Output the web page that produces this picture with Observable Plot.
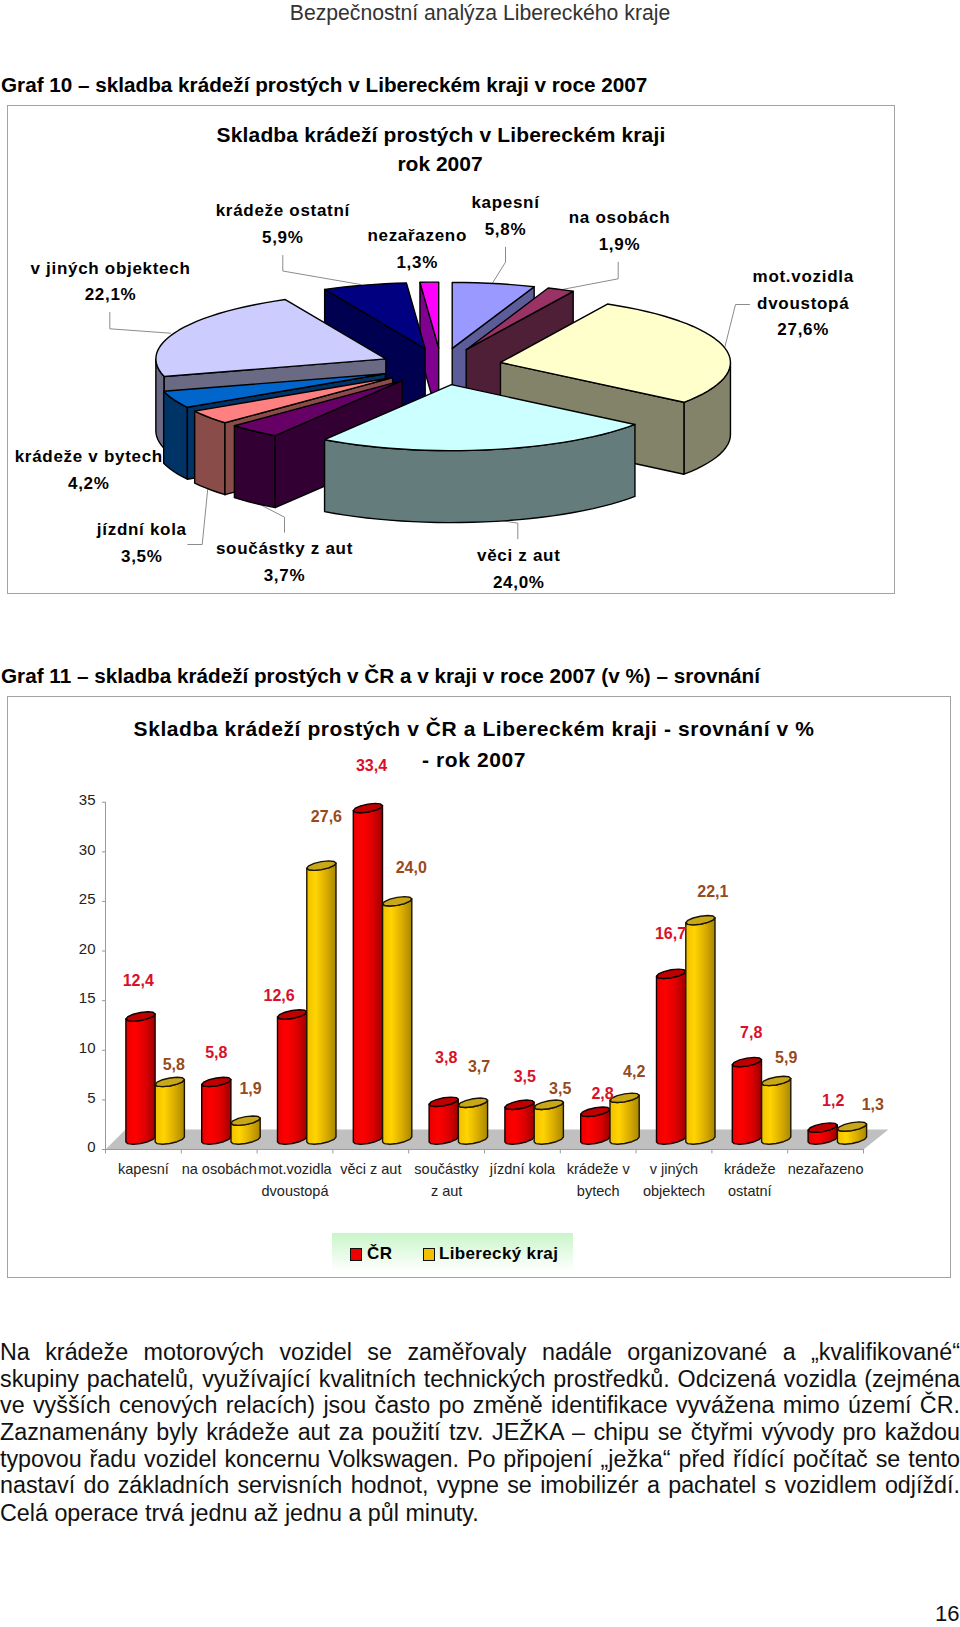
<!DOCTYPE html>
<html lang="cs">
<head>
<meta charset="utf-8">
<script src="https://cdn.jsdelivr.net/npm/d3@7"></script>
<script src="https://cdn.jsdelivr.net/npm/@observablehq/plot@0.6"></script>
<style>
html,body{margin:0;padding:0;background:#fff}
#page{position:relative;width:960px;height:1627px;overflow:hidden;font-family:"Liberation Sans",Arial,sans-serif;color:#000}
#page>*{position:absolute}
.h{font-weight:bold;font-size:20.7px;left:1px;white-space:nowrap;line-height:24px}
.frame{box-sizing:border-box;border:1.5px solid #a3a3a3}
.ct{font-weight:bold;font-size:21px;white-space:nowrap;text-align:center;transform:translate(-50%,-50%);line-height:24px}
.p{left:0;width:960px;font-size:23.3px;line-height:26px;height:26px;text-align:justify;text-align-last:justify;white-space:normal;color:#111}
.sw{width:10px;height:11px;border:1.5px solid #111;box-sizing:content-box}
.lg{font-weight:bold;font-size:17px;white-space:nowrap;line-height:20px;letter-spacing:.35px}
</style>
</head>
<body>
<div id="page"></div>
<script>
// ---- data ----
const pieNames = ["kapesní","na osobách","mot.vozidla\ndvoustopá","věci z aut","součástky z aut","jízdní kola","krádeže v bytech","v jiných objektech","krádeže ostatní","nezařazeno"];
const pieShares = [5.8,1.9,27.6,24.0,3.7,3.5,4.2,22.1,5.9,1.3];
const pieTopColors = ["#9999ff","#993366","#ffffcc","#ccffff","#660066","#ff8080","#0066cc","#ccccff","#000080","#ff00ff"];
const pieSideColors = ["#5c5c99","#4f1f38","#83836a","#647c7c","#330033","#8a4c48","#003366","#6a6a85","#000050","#800090"];

const barCategories = ["kapesní","na osobách","mot.vozidla\ndvoustopá","věci z aut","součástky\nz aut","jízdní kola","krádeže v\nbytech","v jiných\nobjektech","krádeže\nostatní","nezařazeno"];
const valuesCR = [12.4,5.8,12.6,33.4,3.8,3.5,2.8,16.7,7.8,1.2];
const valuesLK = [5.8,1.9,27.6,24.0,3.7,3.5,4.2,22.1,5.9,1.3];
const yTicks = [0,5,10,15,20,25,30,35];

const bodyLines = [
"Na krádeže motorových vozidel se zaměřovaly nadále organizované a „kvalifikované“",
"skupiny pachatelů, využívající kvalitních technických prostředků. Odcizená vozidla (zejména",
"ve vyšších cenových relacích) jsou často po změně identifikace vyvážena mimo území ČR.",
"Zaznamenány byly krádeže aut za použití tzv. JEŽKA – chipu se čtyřmi vývody pro každou",
"typovou řadu vozidel koncernu Volkswagen. Po připojení „ježka“ před řídící počítač se tento",
"nastaví do základních servisních hodnot, vypne se imobilizér a pachatel s vozidlem odjíždí.",
"Celá operace trvá jednu až jednu a půl minuty."];

// ---- page furniture ----
const page = document.getElementById("page");
function el(cls, style, text){
  const d = document.createElement("div");
  d.className = cls; Object.assign(d.style, style);
  if (text != null) d.textContent = text;
  page.appendChild(d); return d;
}
el("", {left:"0",width:"960px",top:"2.5px",textAlign:"center",fontSize:"21.2px",lineHeight:"20px",color:"#333"}, "Bezpečnostní analýza Libereckého kraje");
el("h", {top:"73px"}, "Graf 10 – skladba krádeží prostých v Libereckém kraji v roce 2007");
el("h", {top:"664px"}, "Graf 11 – skladba krádeží prostých v ČR a v kraji v roce 2007 (v %) – srovnání");
el("frame", {left:"7px",top:"105px",width:"888px",height:"489px"});
el("frame", {left:"7px",top:"696px",width:"944px",height:"582px"});

bodyLines.forEach((t,i)=>{
  const tops = [1339,1366,1392,1419,1446,1472,1500];
  const d = el("p", {top:tops[i]+"px"}, t);
  if (i === bodyLines.length-1) d.style.textAlignLast = "left";
});
el("", {left:"935px",top:"1604px",fontSize:"22px",lineHeight:"20px",color:"#111"}, "16");

// ---- pie: unit circle squashed by the scales, slices offset radially ----
const PIE = {cx:440.7, cy:366, a:230, b:66, left:8, top:105, w:886, h:488, ex:0.264, ey:0.279, depth:1.09};
const pieX = px => (px - PIE.cx)/PIE.a, pieY = py => (py - PIE.cy)/PIE.b;
const cum = d3.cumsum(pieShares);
const slices = pieShares.map((s,i)=>{
  const start = (i?cum[i-1]:0)*3.6, end = cum[i]*3.6, mid = (start+end)/2*Math.PI/180;
  return {i, start, end, ox: PIE.ex*Math.sin(mid), oy: -PIE.ey*Math.cos(mid)};
}).sort((p,q)=>p.oy-q.oy);
const piePolys = [];
let polyId = 0;
function addPoly(pts, fill){ const id = polyId++; pts.forEach(([x,y])=>piePolys.push({id,x,y,fill})); }
function arc(s, from, to, dz){
  const n = Math.max(1, Math.ceil(Math.abs(to-from)/3)), out = [];
  for (let k=0;k<=n;k++){
    const t = (from+(to-from)*k/n)*Math.PI/180;
    out.push([s.ox+Math.sin(t), s.oy-Math.cos(t)+dz]);
  }
  return out;
}
for (const s of slices){
  const top = pieTopColors[s.i], side = pieSideColors[s.i], D = PIE.depth;
  const sinS = Math.sin(s.start*Math.PI/180), sinE = Math.sin(s.end*Math.PI/180);
  const f = Math.max(s.start,90), l = Math.min(s.end,270);
  if (l > f) addPoly([...arc(s,f,l,0), ...arc(s,l,f,D)], side);
  if (sinS < -1e-6) addPoly([[s.ox,s.oy], ...arc(s,s.start,s.start,0).slice(0,1), ...arc(s,s.start,s.start,D).slice(0,1), [s.ox,s.oy+D]], side);
  if (sinE > 1e-6) addPoly([[s.ox,s.oy], ...arc(s,s.end,s.end,0).slice(0,1), ...arc(s,s.end,s.end,D).slice(0,1), [s.ox,s.oy+D]], side);
  addPoly([[s.ox,s.oy], ...arc(s,s.start,s.end,0)], top);
}
// label anchors (page pixels, hand placed as in the original), one per slice
const pieLabelAt = [[505,216],[619,231],[802.7,303.3],[518.3,569],[284,562],[141.3,543],[88.3,470],[110,281.5],[282.3,224],[416.7,249]];
const pct = v => v.toFixed(1).replace(".",",")+"%";
const pieLabels = pieNames.map((n,i)=>({t:n+"\n"+pct(pieShares[i]), x:pieX(pieLabelAt[i][0]), y:pieY(pieLabelAt[i][1])}));
const leaders = [
 [[282.3,255],[282.3,270.5],[360,284]],
 [[109.3,312],[109.3,328.3],[170,332.7]],
 [[505,246.7],[505,261.7],[491.7,283]],
 [[617.7,261.7],[617.7,278.3],[561.7,289]],
 [[749,304],[735,304],[724.3,346.7]],
 [[187.3,544],[201.7,544],[207.3,488]],
 [[284,531.7],[284,516.7],[255,501.7]],
 [[517.3,538.3],[517.3,522.7],[500,520]]
].flatMap((l,id)=>l.map(([x,y])=>({id,x:pieX(x),y:pieY(y)})));

const pie = Plot.plot({
  width:PIE.w, height:PIE.h, margin:0,
  x:{domain:[pieX(PIE.left),pieX(PIE.left+PIE.w)],range:[0,PIE.w],axis:null},
  y:{domain:[pieY(PIE.top),pieY(PIE.top+PIE.h)],range:[0,PIE.h],axis:null},
  color:{type:"identity"},
  style:{background:"none",fontFamily:"'Liberation Sans',Arial,sans-serif",overflow:"visible",letterSpacing:".7px"},
  marks:[
    Plot.line(leaders,{x:"x",y:"y",z:"id",stroke:"#8c8c8c",strokeWidth:1}),
    Plot.line(piePolys,{x:"x",y:"y",z:"id",fill:d=>d.fill,stroke:"#000000",strokeWidth:1.4,strokeLinejoin:"round",curve:"linear-closed"}),
    Plot.text(pieLabels,{x:"x",y:"y",text:"t",fontSize:17,fontWeight:"bold",fill:"#000000",lineHeight:1.55,dy:-3.5})
  ]
});
Object.assign(pie.style,{position:"absolute",left:PIE.left+"px",top:PIE.top+"px"});
page.appendChild(pie);
el("ct",{left:"441px",top:"135px",letterSpacing:".15px"},"Skladba krádeží prostých v Libereckém kraji");
el("ct",{left:"440px",top:"164px"},"rok 2007");

// ---- bars ----
const B = {left:8, top:696, w:943, h:581, x0:105, x1:863, y0:1149, y35:801.7};
const ux = (B.x1-B.x0)/10, uy = (B.y0-B.y35)/35;
const hw = 14.6/ux;
const liftBase = 10/uy;       // bars stand on the floor, set back from the front edge
const redOff = 35/ux, goldOff = 64.3/ux;
function ell(cx, yc, t){
  return [cx+hw*Math.cos(t), yc-(4*Math.sin(t)-2.5*Math.cos(t))/uy];
}
const barBodies = [], barCaps = [];
function addBar(id, cx, v, cap){
  const n = 6, yt = v+liftBase, yb = liftBase, body = [], top = [];
  for (let k=0;k<=n;k++) body.push(ell(cx,yb,Math.PI-Math.PI*k/n));
  for (let k=0;k<=n;k++) body.push(ell(cx,yt,Math.PI*k/n));
  for (let k=0;k<2*n;k++) top.push(ell(cx,yt,2*Math.PI*k/(2*n)));
  body.forEach(([x,y])=>barBodies.push({id,x,y}));
  top.forEach(([x,y])=>barCaps.push({id,x,y,cap}));
}
valuesCR.forEach((v,i)=>addBar("r"+i,i+redOff,v,"#c00000"));
valuesLK.forEach((v,i)=>addBar("g"+i,i+goldOff,v,"#c8a818"));
const bodiesCR = barBodies.filter(d=>d.id[0]==="r"), bodiesLK = barBodies.filter(d=>d.id[0]==="g");
// hand placement of the value labels, in pixels from the top of each bar
const dxCR=[-2.3,0,-13,3.6,2.5,5.3,7.2,-0.6,4.3,10.5], liftCR=[36,29,19,42,44,28,18,40,29,27];
const dxLK=[4,5,5,14,6,11.4,9.6,12.4,10,20.8], liftLK=[17,32,48.5,33,36,16,26,28,23,22];
const fmt = v => v.toFixed(1).replace(".",",");
const labelsCR = valuesCR.map((v,i)=>({t:fmt(v),x:i+redOff+dxCR[i]/ux,y:v+liftBase+liftCR[i]/uy}));
const labelsLK = valuesLK.map((v,i)=>({t:fmt(v),x:i+goldOff+dxLK[i]/ux,y:v+liftBase+liftLK[i]/uy}));
const floor = [[0,0],[20/ux,20/uy],[(888-B.x0)/ux,20/uy],[10,0]].map(([x,y])=>({x,y}));
const catLabels = barCategories.map((t,i)=>({t,x:i+0.5}));

const defs = () => {
  const ns="http://www.w3.org/2000/svg", d=document.createElementNS(ns,"defs");
  const mk=(id,st)=>{const g=document.createElementNS(ns,"linearGradient");g.setAttribute("id",id);
    st.forEach(([o,c])=>{const s=document.createElementNS(ns,"stop");s.setAttribute("offset",o);s.setAttribute("stop-color",c);g.appendChild(s);});d.appendChild(g);};
  mk("gradR",[[0,"#e80000"],[.3,"#ff0000"],[.65,"#e00000"],[1,"#a00000"]]);
  mk("gradG",[[0,"#f0c000"],[.3,"#ffd400"],[.65,"#dcae00"],[1,"#a88800"]]);
  return d;
};

const bars = Plot.plot({
  width:B.w, height:B.h,
  marginLeft:B.x0-B.left, marginRight:B.left+B.w-B.x1, marginTop:B.y35-B.top, marginBottom:B.top+B.h-B.y0,
  x:{domain:[0,10],axis:null},
  y:{domain:[0,35],axis:null},
  color:{type:"identity"},
  style:{background:"none",fontFamily:"'Liberation Sans',Arial,sans-serif",overflow:"visible"},
  marks:[
    defs,
    Plot.line(floor,{x:"x",y:"y",fill:"#c0c0c0",stroke:"none",curve:"linear-closed"}),
    Plot.ruleX([0],{y1:0,y2:35,stroke:"#9a9a9a"}),
    Plot.ruleY([0],{x1:0,x2:10,stroke:"#9a9a9a"}),
    Plot.ruleX(d3.range(11),{y1:0,y2:-0.45,stroke:"#9a9a9a"}),
    Plot.ruleY(yTicks,{x1:0,x2:-3/ux,stroke:"#9a9a9a"}),
    Plot.axisY(yTicks,{anchor:"left",label:null,tickSize:0,tickPadding:10,fontSize:15,fill:"#222222",dy:-2,stroke:"none"}),
    Plot.line(bodiesCR,{x:"x",y:"y",z:"id",fill:"url(#gradR)",stroke:"#140000",strokeWidth:1.4,strokeLinejoin:"round",curve:"linear-closed"}),
    Plot.line(barCaps.filter(d=>d.id[0]==="r"),{x:"x",y:"y",z:"id",fill:d=>d.cap,stroke:"#140000",strokeWidth:1.4,curve:"linear-closed"}),
    Plot.line(bodiesLK,{x:"x",y:"y",z:"id",fill:"url(#gradG)",stroke:"#1c1400",strokeWidth:1.4,strokeLinejoin:"round",curve:"linear-closed"}),
    Plot.line(barCaps.filter(d=>d.id[0]==="g"),{x:"x",y:"y",z:"id",fill:d=>d.cap,stroke:"#1c1400",strokeWidth:1.4,curve:"linear-closed"}),
    Plot.text(labelsCR,{x:"x",y:"y",text:"t",fontSize:16,fontWeight:"bold",fill:"#d8102a"}),
    Plot.text(labelsLK,{x:"x",y:"y",text:"t",fontSize:16,fontWeight:"bold",fill:"#974a1c"}),
    Plot.text(catLabels,{x:"x",y:()=>0,text:"t",fontSize:14.5,fill:"#222222",lineAnchor:"top",dy:9,lineHeight:1.52})
  ]
});
Object.assign(bars.style,{position:"absolute",left:B.left+"px",top:B.top+"px"});
page.appendChild(bars);
el("ct",{left:"474px",top:"729px",letterSpacing:".58px"},"Skladba krádeží prostých v ČR a Libereckém kraji - srovnání v %");
el("ct",{left:"474px",top:"760px",letterSpacing:".58px"},"- rok 2007");

// ---- legend ----
el("",{left:"332px",top:"1233px",width:"241px",height:"38px",background:"linear-gradient(#c9f5c9,#ffffff)"});
el("sw",{left:"350px",top:"1248px",background:"#ee0000"});
el("lg",{left:"367px",top:"1244px"},"ČR");
el("sw",{left:"423px",top:"1248px",background:"#f2c200"});
el("lg",{left:"439px",top:"1244px"},"Liberecký kraj");
</script>
</body>
</html>
